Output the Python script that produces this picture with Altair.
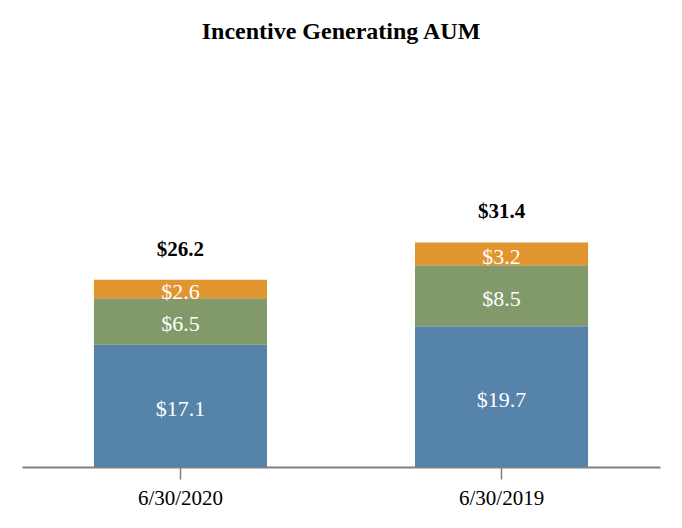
import altair as alt
import pandas as pd

dates = ["6/30/2020", "6/30/2019"]
series = ["Segment 1", "Segment 2", "Segment 3"]
blue_vals = [17.1, 19.7]
green_vals = [6.5, 8.5]
orange_vals = [2.6, 3.2]
totals = [26.2, 31.4]
colors = ["#5583A9", "#82996A", "#E0952F"]

rows = []
for i, d in enumerate(dates):
    for k, (s, vals) in enumerate(zip(series, [blue_vals, green_vals, orange_vals])):
        rows.append({"date": d, "series": s, "value": vals[i], "order": k,
                     "label": f"${vals[i]:.1f}"})
df = pd.DataFrame(rows)
tot = pd.DataFrame({"date": dates, "total": totals,
                    "label": [f"${t:.1f}" for t in totals]})

FONT = "Liberation Serif"

xenc = alt.X("date:N", sort=dates,
             scale=alt.Scale(paddingInner=0.461, paddingOuter=0.224),
             axis=alt.Axis(title=None, labelAngle=0, labelFont=FONT, labelFontSize=21,
                           labelColor="black", domainColor="#808080", domainWidth=2,
                           tickColor="#808080", tickSize=12, tickWidth=1.5,
                           labelPadding=8, grid=False))
yscale = alt.Scale(domain=[0, 40], nice=False, zero=True)

stacked = alt.Chart(df).transform_stack(
    stack="value", groupby=["date"], as_=["y0", "y1"],
    sort=[alt.SortField("order", order="ascending")]
).transform_calculate(mid="(datum.y0 + datum.y1) / 2")

bars = stacked.mark_bar().encode(
    x=xenc,
    y=alt.Y("y0:Q", scale=yscale, axis=None),
    y2="y1:Q",
    color=alt.Color("series:N", scale=alt.Scale(domain=series, range=colors), legend=None),
)

seg_labels = stacked.mark_text(font=FONT, fontSize=22, color="white",
                               baseline="middle", dy=3).encode(
    x=alt.X("date:N", sort=dates),
    y=alt.Y("mid:Q", scale=yscale, axis=None),
    text="label:N",
)

tot_labels = alt.Chart(tot).mark_text(font=FONT, fontSize=21, fontWeight="bold",
                                      color="black", baseline="middle", dy=-30).encode(
    x=alt.X("date:N", sort=dates),
    y=alt.Y("total:Q", scale=yscale, axis=None),
    text="label:N",
)

chart = alt.layer(bars, seg_labels, tot_labels).properties(
    width=638, height=286,
    title=alt.TitleParams("Incentive Generating AUM", font=FONT, fontSize=24,
                          fontWeight="bold", color="black", anchor="middle", offset=137),
    autosize=alt.AutoSizeParams(type="none"),
    padding={"left": 14, "top": 173, "right": 14, "bottom": 50},
).configure_view(stroke=None)

chart.save("out.html", embed_options={"renderer": "svg", "actions": False})
